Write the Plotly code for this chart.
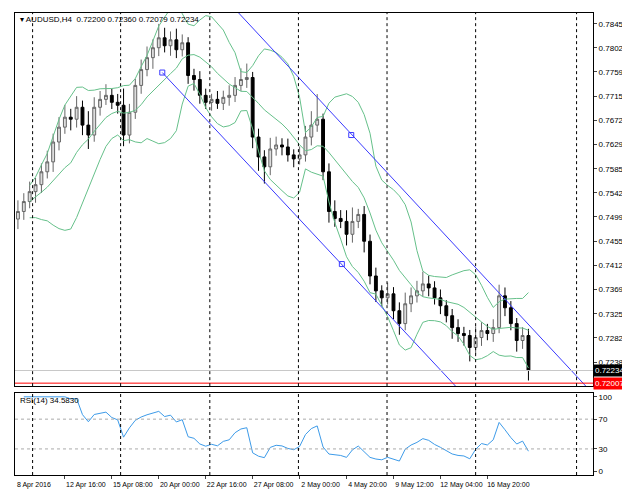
import numpy as np
import pandas as pd
import plotly.graph_objects as go
from plotly.subplots import make_subplots

# H4 closes (sampled), AUDUSD 8 Apr - 18 May 2016
closes = [0.75086, 0.75264, 0.75442, 0.75567, 0.75798, 0.75976, 0.76332, 0.76599, 0.76777, 0.76741,
          0.76955, 0.76635, 0.76457, 0.76955, 0.77097, 0.77169, 0.77044, 0.76991, 0.76457, 0.76866,
          0.77347, 0.77631, 0.77845, 0.78023, 0.78201, 0.78059, 0.78165, 0.77987, 0.78112, 0.77525,
          0.77453, 0.77169, 0.77044, 0.77097, 0.77026, 0.77133, 0.77169, 0.77347, 0.77453, 0.77489,
          0.76421, 0.76065, 0.75887, 0.76207, 0.76279, 0.76243, 0.76101, 0.76029, 0.76101, 0.76421,
          0.76635, 0.76741, 0.75798, 0.75086, 0.74961, 0.74908, 0.74677, 0.74908, 0.75033, 0.74552,
          0.73929, 0.73662, 0.73537, 0.73609, 0.73306, 0.73075, 0.73431, 0.73573, 0.73662, 0.73787,
          0.73715, 0.73537, 0.73395, 0.73217, 0.73003, 0.72897, 0.72861, 0.72647, 0.72825, 0.72950,
          0.72897, 0.73003, 0.73573, 0.73359, 0.73075, 0.72772, 0.72861, 0.72234]
first_open = 0.74950
# wick sizes in pips
wick_up = [20, 15, 18, 12, 15, 20, 15, 18, 22, 15, 20, 12, 25, 18, 15, 20, 12, 15, 30, 15,
           12, 18, 20, 15, 25, 18, 15, 20, 15, 10, 12, 15, 12, 10, 15, 12, 18, 15, 20, 25,
           10, 15, 12, 20, 15, 12, 15, 10, 15, 20, 25, 45, 10, 15, 20, 15, 20, 25, 10, 15,
           12, 15, 10, 20, 12, 15, 20, 15, 18, 22, 15, 12, 15, 10, 12, 15, 12, 10, 20, 15,
           12, 15, 20, 15, 12, 10, 15, 12]
wick_dn = [18, 15, 12, 20, 15, 12, 18, 15, 12, 20, 15, 18, 25, 12, 15, 10, 12, 15, 20, 15,
           12, 15, 12, 20, 15, 12, 18, 15, 12, 15, 20, 15, 12, 15, 10, 12, 15, 12, 10, 15,
           20, 25, 30, 15, 12, 15, 12, 15, 10, 12, 15, 12, 15, 20, 15, 12, 20, 15, 12, 20,
           15, 20, 15, 12, 15, 20, 12, 15, 12, 10, 15, 12, 15, 12, 20, 15, 18, 25, 12, 15,
           12, 15, 10, 15, 12, 20, 15, 18]

first_date = "8 Apr 2016"
date_ticks = [8, 16, 24, 32, 40, 48, 56, 64, 72, 80]
date_labels = ["12 Apr 16:00", "15 Apr 08:00", "20 Apr 00:00", "22 Apr 16:00",
               "27 Apr 08:00", "2 May 00:00", "4 May 20:00", "9 May 12:00", "12 May 04:00",
               "16 May 20:00"]
week_seps = [2.5, 17.5, 32.7, 47.8, 62.9, 78.0, 95.2]
price_ticks = [0.78450, 0.78020, 0.77590, 0.77150, 0.76720, 0.76290, 0.75850, 0.75420,
               0.74990, 0.74550, 0.74120, 0.73690, 0.73250, 0.72820, 0.72380]
# channel anchors (bar index, price)
upper_ch = ([37.3, 97.1], [0.78682, 0.71917])
lower_ch = ([24.6, 74.9], [0.77578, 0.71917])
ch_markers = ([24.6, 56.8, 55.2], [0.77578, 0.76457, 0.74143])
last_price = 0.72234
red_level = 0.72007

df = pd.DataFrame({"close": closes})
df["open"] = [first_open] + closes[:-1]
df["high"] = df[["open", "close"]].max(axis=1) + np.array(wick_up) * 0.0001
df["low"] = df[["open", "close"]].min(axis=1) - np.array(wick_dn) * 0.0001
x = np.arange(len(df))

mid = df["close"].rolling(10, min_periods=3).mean()
sd = df["close"].rolling(10, min_periods=3).std(ddof=0)
d = df["close"].diff()
gain = d.clip(lower=0).ewm(alpha=1 / 7, adjust=False).mean()
loss = (-d.clip(upper=0)).ewm(alpha=1 / 7, adjust=False).mean()
rsi = 100 - 100 / (1 + gain / loss)

fig = make_subplots(rows=2, cols=1, shared_xaxes=True, row_heights=[0.82, 0.18],
                    vertical_spacing=0.015)
green = "#66c08a"
for band in [mid + 2 * sd, mid, mid - 2 * sd]:
    fig.add_trace(go.Scatter(x=x, y=band, mode="lines", line=dict(color=green, width=1)), 1, 1)
fig.add_trace(go.Candlestick(x=x, open=df["open"], high=df["high"], low=df["low"], close=df["close"],
                             increasing=dict(line=dict(color="#666", width=1), fillcolor="#ddd"),
                             decreasing=dict(line=dict(color="#000", width=1), fillcolor="#000"),
                             whiskerwidth=0), 1, 1)
for ch in (upper_ch, lower_ch):
    fig.add_trace(go.Scatter(x=ch[0], y=ch[1], mode="lines", line=dict(color="#3a3aff", width=1)), 1, 1)
fig.add_trace(go.Scatter(x=ch_markers[0], y=ch_markers[1], mode="markers",
                         marker=dict(symbol="square-open", size=5, color="#3a3aff")), 1, 1)
fig.add_hline(y=last_price, line=dict(color="#c8c8c8", width=1), row=1, col=1)
fig.add_hline(y=red_level, line=dict(color="#ff0000", width=1), row=1, col=1)
fig.add_trace(go.Scatter(x=x, y=rsi, mode="lines", line=dict(color="#3d9be9", width=1)), 2, 1)
for lv in (30, 70):
    fig.add_hline(y=lv, line=dict(color="#aaa", width=1, dash="dot"), row=2, col=1)
for s in week_seps:
    for r in (1, 2):
        fig.add_vline(x=s, line=dict(color="#000", width=1, dash="3px,3px"), row=r, col=1)

ax = dict(showgrid=False, zeroline=False, showline=True, linecolor="#000", mirror=True,
          tickfont=dict(family="Liberation Sans", size=8, color="#000"))
fig.update_xaxes(**ax, range=[-0.5, 98], rangeslider_visible=False)
fig.update_xaxes(tickvals=date_ticks, ticktext=date_labels, ticks="outside", ticklen=3,
                 tickangle=0, tickfont=dict(size=7), ticklabelshift=21, row=2, col=1)
fig.update_yaxes(**ax, side="right", ticks="outside", ticklen=3)
fig.update_yaxes(range=[0.71953, 0.78646], tickvals=price_ticks,
                 tickformat=".5f", row=1, col=1)
fig.update_yaxes(range=[-5, 105], tickvals=[0, 30, 70, 100], row=2, col=1)

fig.add_annotation(xref="paper", yref="paper", x=0.0, y=0, yshift=-4, xanchor="left", yanchor="top",
                   text=first_date, showarrow=False,
                   font=dict(family="Liberation Sans", size=7, color="#000"))
fig.add_annotation(xref="paper", yref="paper", x=0.005, y=1.0, xanchor="left", yanchor="top",
                   text="▾ AUDUSD,H4  0.72200 0.72360 0.72079 0.72234", showarrow=False,
                   font=dict(family="Liberation Sans", size=8, color="#000"))
fig.add_annotation(xref="paper", yref="paper", x=0.005, y=0.175, xanchor="left", yanchor="top",
                   text="RSI(14) 34.5830", showarrow=False,
                   font=dict(family="Liberation Sans", size=8, color="#000"))
for val, bg in ((last_price, "#000"), (red_level, "#ff0000")):
    fig.add_annotation(xref="paper", yref="y", x=1.0, y=val, xanchor="left", text=f"{val:.5f}",
                       showarrow=False, bgcolor=bg, borderpad=1,
                       font=dict(family="Liberation Sans", size=8, color="#fff"))

fig.update_layout(width=630, height=490, margin=dict(l=7, r=45, t=5, b=23), showlegend=False,
                  plot_bgcolor="white", paper_bgcolor="white")
fig.write_html("out.html")
